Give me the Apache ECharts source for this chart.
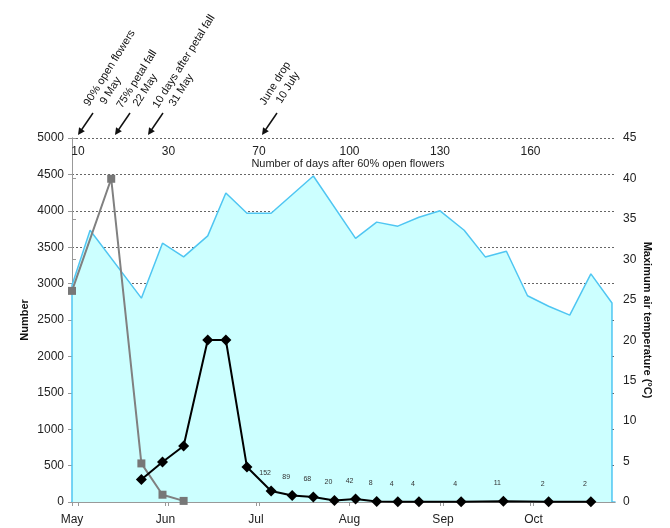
<!DOCTYPE html>
<html><head><meta charset="utf-8">
<script src="https://cdn.jsdelivr.net/npm/echarts@6/dist/echarts.min.js"></script>
<style>html,body{margin:0;padding:0;background:#fff}#c{width:670px;height:528px}</style>
</head><body><div id="c"></div>
<script>
// x values are days after 1 May
const monthLabels = ['May', 'Jun', 'Jul', 'Aug', 'Sep', 'Oct'];
const monthStartDays = [0, 31, 61, 92, 123, 153];
const topTickDays = [2, 32, 62, 92, 122, 152];
const topTickLabels = ['10', '30', '70', '100', '130', '160'];

const tempDays = [0, 6, 23, 30, 37, 45, 51, 58, 66, 80, 94, 101, 108, 115, 122, 130, 137, 144, 151, 158, 165, 172, 179];
const tempValues = [26.8, 33.6, 25.2, 32.0, 30.3, 32.9, 38.2, 35.7, 35.7, 40.3, 32.6, 34.6, 34.1, 35.2, 36.0, 33.6, 30.3, 31.0, 25.5, 24.2, 23.1, 28.2, 24.6];

const grayDays = [0, 13, 23, 30, 37];
const grayValues = [2900, 4440, 530, 100, 15];

const blackDays = [23, 30, 37, 45, 51, 58, 66, 73, 80, 87, 94, 101, 108, 115, 129, 143, 158, 172];
const blackValues = [310, 550, 770, 2225, 2225, 480, 152, 89, 68, 20, 42, 8, 4, 4, 4, 11, 2, 2];

const annLine1 = ['90% open flowers', '75% petal fall', '10 days after petal fall', 'June drop'];
const annLine2 = ['9 May', '22 May', '31 May', '10 July'];

const chart = echarts.init(document.getElementById('c'), null, {renderer: 'canvas'});

const FONT = 'Liberation Sans, Arial, sans-serif';
const tempData = [[tempDays[0], 0]].concat(tempDays.map((d, i) => [d, tempValues[i]])).concat([[tempDays[tempDays.length - 1], 0]]);

// annotation graphics (positions in pixels)
const annPos = [[91, 108], [124, 110], [160, 110], [267, 107]];
const arrowHeads = [[78, 135], [115, 135], [148, 135], [262, 135]];
const rot = 58 * Math.PI / 180;
const graphics = [];
annLine1.forEach((t, i) => {
  graphics.push({
    type: 'group', x: annPos[i][0], y: annPos[i][1], rotation: rot,
    children: [
      {type: 'text', x: 0, y: 0, style: {text: t, font: '11px ' + FONT, fill: '#111', textAlign: 'left', textVerticalAlign: 'bottom'}},
      {type: 'text', x: 10, y: 13, style: {text: annLine2[i], font: '11px ' + FONT, fill: '#111', textAlign: 'left', textVerticalAlign: 'bottom'}}
    ]
  });
  const hx = arrowHeads[i][0], hy = arrowHeads[i][1];
  const tx = hx + 15, ty = hy - 22;
  const dx = hx - tx, dy = hy - ty, L = Math.hypot(dx, dy);
  const ux = dx / L, uy = dy / L, px = -uy, py = ux;
  const hl = 7, hw = 3.5;
  graphics.push({type: 'line', shape: {x1: tx, y1: ty, x2: hx - ux * hl * 0.6, y2: hy - uy * hl * 0.6}, style: {stroke: '#111', lineWidth: 1.5}});
  graphics.push({type: 'polygon', shape: {points: [[hx, hy], [hx - ux * hl + px * hw, hy - uy * hl + py * hw], [hx - ux * hl - px * hw, hy - uy * hl - py * hw]]}, style: {fill: '#111'}});
});
graphics.push({type: 'text', x: 348, y: 164, style: {text: 'Number of days after 60% open flowers', font: '11px ' + FONT, fill: '#222', textAlign: 'center', textVerticalAlign: 'middle'}});

const option = {
  animation: false,
  backgroundColor: '#fff',
  grid: {left: 72, right: 55, top: 138, bottom: 26, containLabel: false},
  xAxis: [
    {
      type: 'value', position: 'bottom', min: 0, max: 180,
      axisLine: {show: true, lineStyle: {color: '#4fc6f2', width: 1.5}},
      axisTick: {show: true, customValues: monthStartDays, length: 4, lineStyle: {color: '#999'}},
      axisLabel: {customValues: monthStartDays, formatter: v => monthLabels[monthStartDays.indexOf(v)] || '', fontFamily: FONT, fontSize: 12, color: '#222', margin: 12},
      splitLine: {show: false}
    },
    {
      type: 'value', position: 'top', min: 0, max: 180,
      axisLine: {show: true, lineStyle: {color: '#999'}},
      axisTick: {show: true, customValues: topTickDays, inside: true, length: 4, lineStyle: {color: '#999'}},
      axisLabel: {customValues: topTickDays, inside: true, formatter: v => topTickLabels[topTickDays.indexOf(v)] || '', fontFamily: FONT, fontSize: 12, color: '#222', margin: 8},
      splitLine: {show: false}
    }
  ],
  yAxis: [
    {
      type: 'value', position: 'left', min: 0, max: 5000, interval: 500,
      name: 'Number', nameLocation: 'middle', nameGap: 42, nameMoveOverlap: false,
      nameTextStyle: {fontFamily: FONT, fontSize: 11, fontWeight: 'bold', color: '#111'},
      axisLine: {show: true, lineStyle: {color: '#999'}},
      axisTick: {show: true, length: 4, lineStyle: {color: '#999'}},
      axisLabel: {fontFamily: FONT, fontSize: 12, color: '#222', margin: 8, formatter: v => String(v)},
      splitLine: {show: true, lineStyle: {color: '#666', type: [2, 2], width: 1}}
    },
    {
      type: 'value', position: 'right', min: 0, max: 45, interval: 5,
      name: 'Maximum air temperature (°C)', nameLocation: 'middle', nameGap: 27, nameRotate: -90, nameMoveOverlap: false,
      nameTextStyle: {fontFamily: FONT, fontSize: 11, fontWeight: 'bold', color: '#111'},
      axisLine: {show: true, lineStyle: {color: '#999'}},
      axisTick: {show: true, length: 4, lineStyle: {color: '#999'}},
      axisLabel: {fontFamily: FONT, fontSize: 12, color: '#222', margin: 8},
      splitLine: {show: false}
    }
  ],
  series: [
    {
      name: 'Temperature', type: 'line', xAxisIndex: 0, yAxisIndex: 1,
      data: tempData, symbol: 'none', z: 1,
      lineStyle: {color: '#4fc6f2', width: 1.5},
      areaStyle: {color: '#ccffff', opacity: 1}
    },
    {
      name: 'Gray', type: 'line', xAxisIndex: 0, yAxisIndex: 0,
      data: grayDays.map((d, i) => [d, grayValues[i]]),
      symbol: 'rect', symbolSize: 8, z: 3,
      lineStyle: {color: '#808080', width: 2},
      itemStyle: {color: '#777'}
    },
    {
      name: 'Black', type: 'line', xAxisIndex: 0, yAxisIndex: 0,
      data: blackDays.map((d, i) => [d, blackValues[i]]),
      symbol: 'diamond', symbolSize: 11, z: 4,
      lineStyle: {color: '#000', width: 2},
      itemStyle: {color: '#000'},
      label: {show: true, position: 'top', distance: 9, offset: [-6, 0], fontSize: 7, fontFamily: FONT, color: '#333',
        formatter: p => (p.value[1] < 200 ? String(p.value[1]) : '')}
    }
  ],
  graphic: graphics
};
chart.setOption(option);
</script>
</body></html>
